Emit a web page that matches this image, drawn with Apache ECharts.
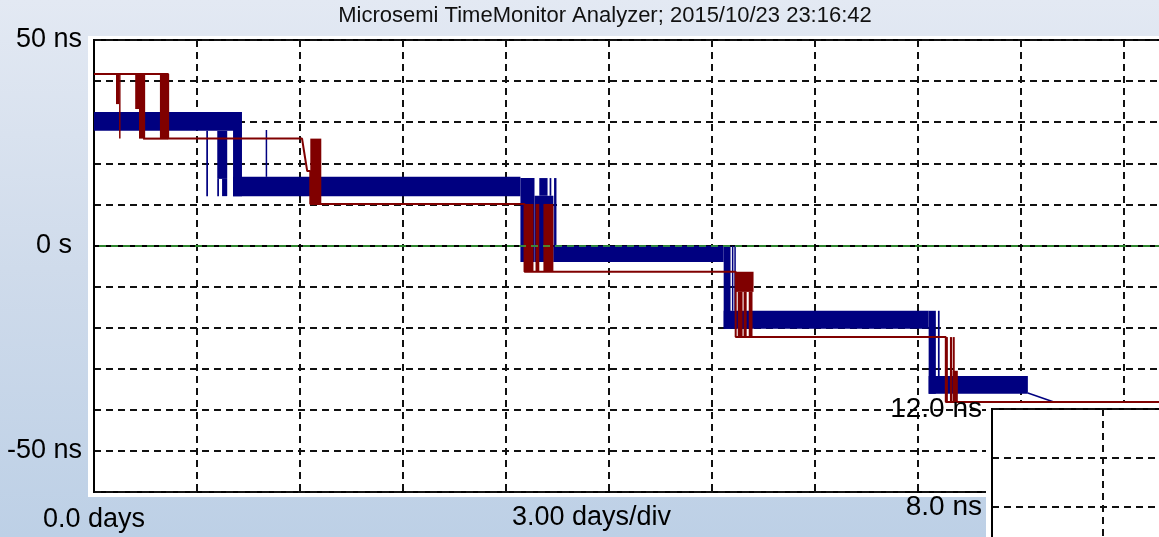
<!DOCTYPE html>
<html>
<head>
<meta charset="utf-8">
<title>Microsemi TimeMonitor Analyzer</title>
<script src="https://cdn.jsdelivr.net/npm/echarts@6.0.0/dist/echarts.min.js"></script>
<style>
  html, body { margin: 0; padding: 0; }
  body { background: linear-gradient(to bottom, #e3e9f3 0%, #cfdbeb 50%, #bdd0e6 100%); }
  #chart { width: 1159px; height: 537px; }
</style>
</head>
<body>
<div id="chart"></div>
<script>
// TIE vs time, days on x, ns on y
// blocks are [startDay, endDay, lowNs, highNs]
const blueBands = [
  [0.00, 4.20, 27.9, 32.5],
  [4.05, 12.42, 12.0, 16.7],
  [13.38, 18.34, -4.0, -0.1],
  [18.34, 24.31, -20.3, -15.9],
  [24.31, 27.20, -36.1, -31.8]
]
const blueSteps = [
  [3.59, 3.88, 16.2, 27.9],
  [3.59, 3.64, 12.0, 16.2],
  [3.73, 3.88, 12.0, 16.2],
  [4.05, 4.31, 12.0, 32.5],
  [12.42, 12.83, -4.0, 16.4],
  [12.83, 13.38, -4.0, 12.1],
  [12.97, 13.21, 12.1, 16.4],
  [13.27, 13.32, 12.1, 16.4],
  [13.40, 13.47, -4.0, 16.4],
  [18.34, 18.54, -20.3, -0.1],
  [18.58, 18.62, -15.9, -0.1],
  [18.65, 18.68, -15.9, -0.1],
  [24.31, 24.52, -36.1, -15.9],
  [24.58, 24.63, -31.8, -15.9]
]
const blueSpikes = [
  [3.27, 3.32, 12.0, 27.9],
  [5.00, 5.04, 16.7, 28.1]
]
const blueTail = [[27.20, -35.9], [28.02, -38.3]]

const redBursts = [
  [0.64, 0.73, 34.4, 41.7],
  [0.73, 0.76, 26.0, 41.7],
  [1.20, 1.31, 33.2, 41.7],
  [1.31, 1.49, 26.0, 41.7],
  [1.43, 2.16, 25.75, 26.25],
  [1.92, 2.16, 26.0, 41.7],
  [6.30, 6.62, 10.1, 26.0],
  [12.54, 12.80, -6.4, 10.1],
  [12.86, 12.97, -6.4, 10.1],
  [13.09, 13.38, -6.4, 10.1],
  [18.69, 19.21, -11.3, -6.4],
  [18.75, 18.89, -22.3, -11.3],
  [18.92, 19.01, -22.3, -11.3],
  [19.07, 19.18, -22.3, -11.3],
  [24.81, 24.87, -38.1, -22.3],
  [24.93, 24.99, -38.1, -22.3],
  [25.01, 25.07, -38.1, -22.3],
  [25.01, 25.16, -38.1, -30.5]
]
const redTrace = [
  [0, 41.7], [2.16, 41.7], [2.16, 26.0], [6.06, 26.0], [6.12, 22.8], [6.21, 18.1],
  [6.30, 18.1], [6.30, 10.1], [12.54, 10.1], [12.54, -6.4], [18.69, -6.4],
  [18.69, -22.3], [24.81, -22.3], [24.81, -38.1], [33, -38.1]
]

const yTickLabels = { '50': '50 ns', '0': '{z|0 s}', '-50': '-50 ns' }
const insetTickLabels = { '12': '12.0 ns', '8': '8.0 ns' }
const xTickLabels = { '0': '0.0 days' }

const FONT = '"Liberation Sans", Arial, sans-serif'
const NAVY = '#000080'
const MAROON = '#800000'

const dashed = { color: '#111', width: 2, type: [7, 5] }

function blockSeries(name, blocks, color) {
  return {
    name: name,
    type: 'custom',
    xAxisIndex: 0,
    yAxisIndex: 0,
    data: blocks,
    encode: { x: [0, 1], y: [2, 3] },
    silent: true,
    renderItem(params, api) {
      const a = api.coord([api.value(0), api.value(3)])
      const b = api.coord([api.value(1), api.value(2)])
      return {
        type: 'rect',
        shape: { x: a[0], y: a[1], width: Math.max(b[0] - a[0], 1.5), height: b[1] - a[1] },
        style: { fill: color }
      }
    }
  }
}

const chart = echarts.init(document.getElementById('chart'), null, { renderer: 'canvas' })

chart.setOption({
  animation: false,
  backgroundColor: 'transparent',
  textStyle: { fontFamily: FONT },
  grid: [
    {
      left: 94, top: 40, width: 1133, height: 452, outerBoundsMode: 'none',
      show: true, backgroundColor: '#fff', borderColor: '#000', borderWidth: 2
    },
    {
      left: 992, top: 409, width: 333, height: 196, z: 10, outerBoundsMode: 'none',
      show: true, backgroundColor: '#fff', borderColor: '#000', borderWidth: 2
    }
  ],
  xAxis: [
    {
      type: 'value', gridIndex: 0, min: 0, max: 33, interval: 3,
      axisLine: { show: true, lineStyle: { color: '#000', width: 2 } },
      axisTick: { show: false },
      splitLine: { show: true, lineStyle: dashed },
      axisLabel: {
        margin: 14, fontSize: 27, color: '#000', fontFamily: FONT,
        formatter: v => xTickLabels[String(v)] || ''
      }
    },
    {
      type: 'value', gridIndex: 1, min: 0, max: 3, interval: 1, z: 11,
      axisLine: { show: false },
      axisTick: { show: false },
      axisLabel: { show: false },
      splitLine: { show: true, lineStyle: dashed }
    }
  ],
  yAxis: [
    {
      type: 'value', gridIndex: 0, min: -60, max: 50, interval: 10,
      axisLine: { show: true, lineStyle: { color: '#000', width: 2 } },
      axisTick: { show: false },
      splitLine: { show: true, lineStyle: dashed },
      axisLabel: {
        margin: 12, fontSize: 27, color: '#000', fontFamily: FONT,
        formatter: v => yTickLabels[String(v)] || '',
        rich: { z: { fontSize: 27, fontFamily: FONT, color: '#000', padding: [0, 10, 0, 0] } }
      }
    },
    {
      type: 'value', gridIndex: 1, min: 4, max: 12, interval: 2, z: 11,
      axisLine: { show: true, lineStyle: { color: '#000', width: 2 } },
      axisTick: { show: false },
      splitLine: { show: true, lineStyle: dashed },
      axisLabel: {
        margin: 10, fontSize: 28, color: '#000', fontFamily: FONT,
        formatter: v => insetTickLabels[String(v)] || ''
      }
    }
  ],
  graphic: [
    { type: 'rect', z: -10, silent: true, shape: { x: 88, y: 36, width: 1100, height: 461 }, style: { fill: '#fff' } },
    { type: 'rect', z: 9, silent: true, shape: { x: 986, y: 403, width: 200, height: 200 }, style: { fill: '#fff' } },
    {
      type: 'text', x: 605, y: 16, z: 20, silent: true,
      style: {
        text: 'Microsemi TimeMonitor Analyzer; 2015/10/23 23:16:42',
        font: '22px ' + FONT, fill: '#111', textAlign: 'center', textVerticalAlign: 'middle'
      }
    },
    {
      type: 'text', x: 512, y: 518, z: 20, silent: true,
      style: {
        text: '3.00 days/div',
        font: '27px ' + FONT, fill: '#000', textAlign: 'left', textVerticalAlign: 'middle'
      }
    }
  ],
  series: [
    {
      name: 'zero', type: 'line', xAxisIndex: 0, yAxisIndex: 0, data: [], silent: true,
      markLine: {
        silent: true, symbol: 'none', label: { show: false },
        lineStyle: { color: '#3cb03c', type: [7, 5], dashOffset: 7, width: 1.5 },
        data: [{ yAxis: 0 }]
      }
    },
    blockSeries('blue', blueBands.concat(blueSteps, blueSpikes), NAVY),
    {
      name: 'blue tail', type: 'line', xAxisIndex: 0, yAxisIndex: 0, data: blueTail,
      showSymbol: false, silent: true, lineStyle: { color: NAVY, width: 1.5 }
    },
    blockSeries('red', redBursts, MAROON),
    {
      name: 'red', type: 'line', xAxisIndex: 0, yAxisIndex: 0, data: redTrace,
      showSymbol: false, silent: true, lineStyle: { color: MAROON, width: 2 }
    }
  ]
})
</script>
</body>
</html>
